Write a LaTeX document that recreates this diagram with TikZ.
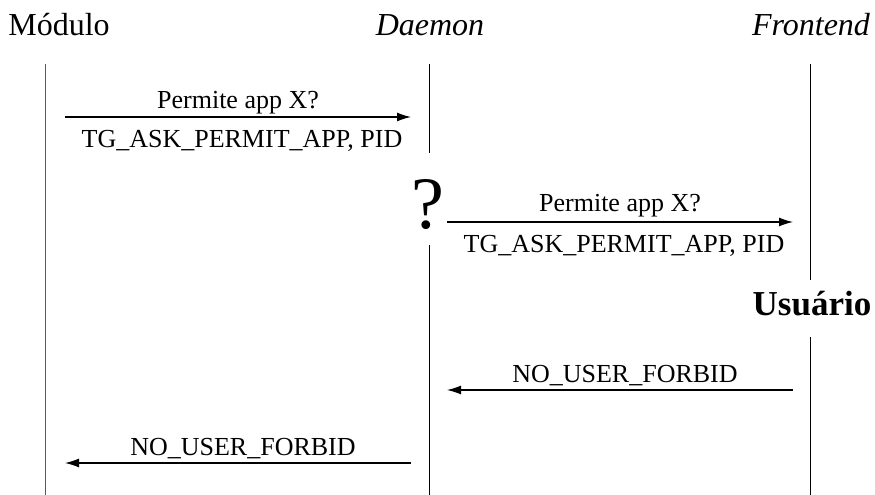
\documentclass[tikz,border=0pt]{standalone}
\usepackage{fontspec}
\setmainfont{Liberation Serif}
\usepackage{tikz}
\usetikzlibrary{arrows.meta}
\tikzstyle{msg} = [line width=1.3pt,-{Latex[length=14pt,width=9pt]}]
\tikzstyle{vida} = [line width=1pt]
\tikzstyle{rotulo} = [inner sep=0pt,anchor=base,font=\fontsize{26}{30}\selectfont]
\tikzstyle{titulo} = [inner sep=0pt,anchor=base,font=\fontsize{32}{38}\selectfont]

\begin{document}
\begin{tikzpicture}[x=1pt,y=-1pt]
		\useasboundingbox (0,0) rectangle (875,495);
		% atores
		\node[titulo] (mod) at (59,36) {Módulo};
		\node[titulo] (dae) at (430,36) {\itshape Daemon};
		\node[titulo] (fro) at (811,36) {\itshape Frontend};
		\node[inner sep=0pt,anchor=base,font=\fontsize{74}{80}\selectfont] (perg) at (428,228) {?};
		\node[inner sep=0pt,anchor=base,font=\fontsize{35}{40}\selectfont\bfseries] (usu) at (812,315) {Usuário};
		% linhas de vida
		\coordinate (m0) at (45,64);   \coordinate (m1) at (45,495);
		\coordinate (d0) at (429,64);  \coordinate (d1) at (429,153);
		\coordinate (d2) at (429,245); \coordinate (d3) at (429,495);
		\coordinate (f0) at (810,64);  \coordinate (f1) at (810,280);
		\coordinate (f2) at (810,337); \coordinate (f3) at (810,495);
		\draw[vida,black!65] (m0) -- (m1);
		\draw[vida] (d0) -- (d1);
		\draw[vida] (d2) -- (d3);
		\draw[vida] (f0) -- (f1);
		\draw[vida] (f2) -- (f3);
		% mensagens
		\coordinate (a1) at (65,117);  \coordinate (b1) at (411,117);
		\coordinate (a2) at (447,222); \coordinate (b2) at (793,222);
		\coordinate (a3) at (793,390); \coordinate (b3) at (447,390);
		\coordinate (a4) at (411,463); \coordinate (b4) at (65,463);
		\draw[msg] (a1) -- (b1)
			node[rotulo,midway,yshift=9pt] (p1) {Permite app X?}
			node[rotulo,midway,yshift=-30pt,xshift=4pt] (t1) {TG\_ASK\_PERMIT\_APP, PID};
		\draw[msg] (a2) -- (b2)
			node[rotulo,midway,yshift=11pt] (p2) {Permite app X?}
			node[rotulo,midway,yshift=-30pt,xshift=4pt] (t2) {TG\_ASK\_PERMIT\_APP, PID};
		\draw[msg] (a3) -- (b3)
			node[rotulo,midway,yshift=8pt,xshift=5pt] (n1) {NO\_USER\_FORBID};
		\draw[msg] (a4) -- (b4)
			node[rotulo,midway,yshift=8pt,xshift=5pt] (n2) {NO\_USER\_FORBID};
\end{tikzpicture}
\end{document}
